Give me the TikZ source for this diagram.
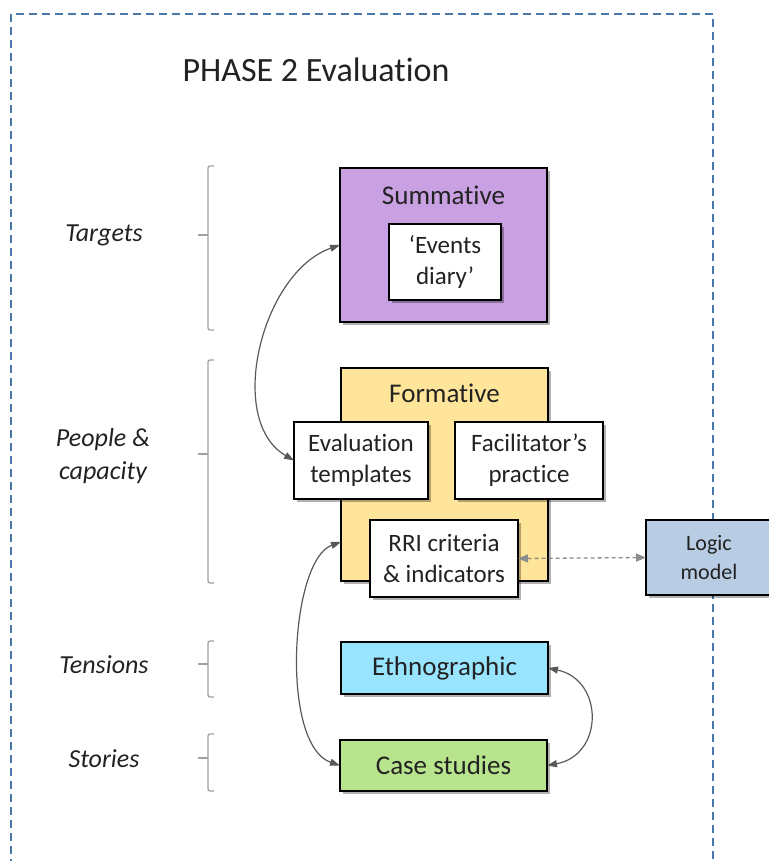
\documentclass[tikz,border=0pt]{standalone}
\usepackage{fontspec}
\setmainfont{Carlito}[Ligatures=NoCommon]
\usetikzlibrary{shadows,arrows.meta}
\definecolor{frameblue}{HTML}{4A78A8}
\definecolor{sumfill}{HTML}{C9A0E2}
\definecolor{formfill}{HTML}{FFE599}
\definecolor{logicfill}{HTML}{B8CCE4}
\definecolor{ethfill}{HTML}{99E4FF}
\definecolor{casefill}{HTML}{B9E48E}
\definecolor{arrowgray}{HTML}{595959}
\definecolor{dashgray}{HTML}{8C8C8C}
\definecolor{bracketgray}{HTML}{A0A0A0}
\definecolor{txtcol}{HTML}{222222}
\begin{document}
\begin{tikzpicture}[x=1pt,y=-1pt,
  box/.style={draw=black, line width=1.8pt, inner sep=0pt, outer sep=0pt,
    drop shadow={shadow xshift=3pt, shadow yshift=-3pt, opacity=0.3, fill=black}},
  big/.style={font=\fontsize{27}{31}\selectfont, text=txtcol, align=center},
  mid/.style={font=\fontsize{25}{31}\selectfont, text=txtcol, align=center},
  small/.style={font=\fontsize{22}{29}\selectfont, text=txtcol, align=center},
  lbl/.style={font=\fontsize{26}{33}\selectfont\itshape, text=txtcol, align=center},
  brk/.style={draw=bracketgray, line width=1.3pt, rounded corners=2pt},
  dbl/.style={draw=arrowgray, line width=1.2pt, {Triangle[length=10pt,width=7pt]}-{Triangle[length=10pt,width=7pt]}},
  dsh/.style={draw=dashgray, line width=1.3pt, dash pattern=on 4pt off 3pt, {Triangle[length=10pt,width=8pt]}-{Triangle[length=10pt,width=8pt]}}
]
\useasboundingbox (0,0) rectangle (768,861);
% frame
\draw[frameblue, line width=1.8pt, dash pattern=on 8pt off 5pt] (11,880) -- (11,14) -- (713,14) -- (713,880);
\node[font=\fontsize{34}{39}\selectfont, text=txtcol] (title) at (316,70) {PHASE 2 Evaluation};

% side labels
\node[lbl] (ltargets) at (104,235) {Targets};
\node[lbl] (lpeople) at (103,456) {People \&\\capacity};
\node[lbl] (ltensions) at (104,665) {Tensions};
\node[lbl] (lstories) at (104,759) {Stories};

% brackets
\draw[brk] (214,166) -- (208,166) -- (208,330) -- (214,330);
\draw[brk] (198,235) -- (208,235);
\draw[brk] (214,360) -- (208,360) -- (208,583) -- (214,583);
\draw[brk] (198,454) -- (208,454);
\draw[brk] (214,641) -- (208,641) -- (208,697) -- (214,697);
\draw[brk] (198,664) -- (208,664);
\draw[brk] (214,734) -- (208,734) -- (208,791) -- (214,791);
\draw[brk] (198,758) -- (208,758);

% summative
\node[box, fill=sumfill, minimum width=207pt, minimum height=154pt] (sum) at (443.5,245) {};
\node[big] (sumt) at (443.5,195) {Summative};
\node[box, fill=white, minimum width=112pt, minimum height=76pt] (events) at (445,262) {};
\node[mid] (eventst) at (445,262) {‘Events\\diary’};

% formative
\node[box, fill=formfill, minimum width=207pt, minimum height=213pt] (form) at (444.5,474.5) {};
\node[big] (formt) at (444.5,393) {Formative};
\node[box, fill=white, minimum width=134pt, minimum height=77pt] (evalt) at (361,460.5) {};
\node[mid] (evaltt) at (361,460.5) {Evaluation\\templates};
\node[box, fill=white, minimum width=148pt, minimum height=77pt] (facil) at (529,460.5) {};
\node[mid] (facilt) at (529,460.5) {Facilitator’s\\practice};
\node[box, fill=white, minimum width=148pt, minimum height=77pt] (rri) at (444,558.5) {};
\node[mid] (rrit) at (444,558.5) {RRI criteria\\\& indicators};

% logic model
\node[box, fill=logicfill, minimum width=126pt, minimum height=75pt] (logic) at (709,557.5) {};
\node[small] (logict) at (709,557.5) {Logic\\model};

% ethnographic and case studies
\node[box, fill=ethfill, minimum width=207pt, minimum height=52pt] (eth) at (444.5,668) {};
\node[big] (etht) at (444.5,668) {Ethnographic};
\node[box, fill=casefill, minimum width=207pt, minimum height=51pt] (cases) at (443.5,765.5) {};
\node[big] (casest) at (443.5,765.5) {Case studies};

% connectors
\draw[dbl] (sum.west) .. controls (262,272) and (225,420) .. (evalt.west);
\draw[dbl] (form.west |- 0,542) .. controls (290,560) and (280,745) .. (cases.west);
\draw[dbl] (eth.east) .. controls (604,680) and (604,755) .. (cases.east);
\draw[dsh] (rri.east) -- (logic.west);
\end{tikzpicture}
\end{document}
